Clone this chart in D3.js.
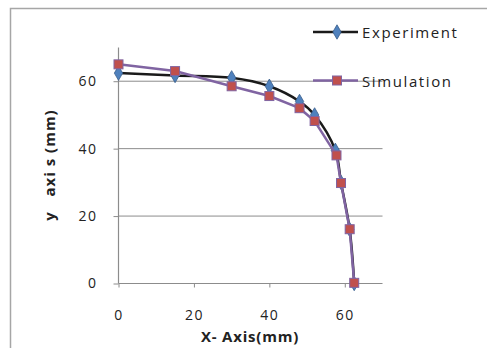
<!DOCTYPE html>
<html><head><meta charset="utf-8">
<script src="https://cdn.jsdelivr.net/npm/d3@7/dist/d3.min.js"></script>
<style>body{margin:0;background:#fff}svg{display:block}</style>
</head><body>
<script>
const expX = [0, 15, 30, 40, 48, 52, 57.5, 59, 61.3, 62.5];
const expY = [62.4, 61.7, 61, 58.5, 54, 50, 39.5, 30, 16, 0];
const simX = [0, 15, 30, 40, 48, 52, 57.8, 59, 61.3, 62.5];
const simY = [65, 63, 58.5, 55.6, 52, 48.2, 38, 29.8, 16.1, 0.2];
const xTicks = [0, 20, 40, 60];
const yTicks = [0, 20, 40, 60];
const seriesNames = ["Experiment", "Simulation"];

const W = 487, H = 348;
const svg = d3.select("body").append("svg").attr("width", W).attr("height", H);
const font = "'Open Sans', 'Liberation Sans', sans-serif";

// outer border
svg.append("path").attr("d", `M10.5,${H} V8.5 H${W}`).attr("fill", "none").attr("stroke", "#a6a6a6").attr("stroke-width", 1.5);

const x = d3.scaleLinear().domain([0, 70]).range([118.5, 382.5]);
const y = d3.scaleLinear().domain([0, 70]).range([283.5, 47.5]);

// gridlines
svg.append("g").selectAll("line").data(yTicks.filter(d => d > 0)).join("line")
  .attr("x1", x(0)).attr("x2", x(70)).attr("y1", d => y(d)).attr("y2", d => y(d))
  .attr("stroke", "#8c8c8c").attr("stroke-width", 1);

// axes
const xAxis = d3.axisBottom(x).tickValues(xTicks).tickSize(4).tickPadding(23).tickFormat(d3.format("d"));
const gx = svg.append("g").attr("transform", `translate(0,${y(0)})`).call(xAxis);
const yAxis = d3.axisLeft(y).tickValues(yTicks).tickSize(5).tickPadding(16).tickFormat(d3.format("d"));
const gy = svg.append("g").attr("transform", `translate(${x(0)},0)`).call(yAxis);
[gx, gy].forEach(g => {
  g.select(".domain").attr("stroke", "#8c8c8c").attr("stroke-width", 1.2);
  g.selectAll(".tick line").attr("stroke", "#8c8c8c");
  g.selectAll(".tick text").attr("font-family", font).attr("font-size", 14).attr("fill", "#222")
    .style("letter-spacing", "1.5px");
});
gx.select(".domain").attr("d", `M${x(0)},0H${x(70)}`);
gy.select(".domain").attr("d", `M0,${y(0)}V${y(70)}`);

// axis titles
svg.append("text").attr("x", 250).attr("y", 342).attr("text-anchor", "middle")
  .attr("font-family", font).attr("font-size", 15).attr("font-weight", "bold").attr("fill", "#222")
  .style("letter-spacing", "0.8px")
  .text("X- Axis(mm)");
svg.append("text").attr("transform", "translate(55,165) rotate(-90)").attr("text-anchor", "middle")
  .attr("font-family", font).attr("font-size", 15).attr("font-weight", "bold").attr("fill", "#222")
  .style("white-space", "pre").style("letter-spacing", "1px")
  .text("y   axi s (mm)");

const smooth = d3.line().curve(d3.curveCatmullRom.alpha(0.5)).x(d => x(d[0])).y(d => y(d[1]));
const straight = d3.line().x(d => x(d[0])).y(d => y(d[1]));
const exp = expX.map((v, i) => [v, expY[i]]);
const sim = simX.map((v, i) => [v, simY[i]]);

svg.append("path").attr("d", smooth(exp)).attr("fill", "none").attr("stroke", "#1a1a1a").attr("stroke-width", 2.5);
const diamond = d3.symbol().type(d3.symbolDiamond).size(60);
svg.append("g").selectAll("path").data(exp).join("path")
  .attr("d", diamond).attr("transform", d => `translate(${x(d[0])},${y(d[1])})`)
  .attr("fill", "#4f81bd").attr("stroke", "#385d8a").attr("stroke-width", 0.8);

svg.append("path").attr("d", straight(sim)).attr("fill", "none").attr("stroke", "#8064a2").attr("stroke-width", 2.5);
svg.append("g").selectAll("rect").data(sim).join("rect")
  .attr("x", d => x(d[0]) - 4.5).attr("y", d => y(d[1]) - 4.5).attr("width", 9).attr("height", 9)
  .attr("fill", "#c0504d").attr("stroke", "#8064a2").attr("stroke-width", 1);

// legend
const lg = svg.append("g");
const ly = [32, 80.5];
lg.append("line").attr("x1", 313).attr("x2", 358).attr("y1", ly[0]).attr("y2", ly[0]).attr("stroke", "#1a1a1a").attr("stroke-width", 2.5);
lg.append("path").attr("d", diamond).attr("transform", `translate(337,${ly[0]})`).attr("fill", "#4f81bd").attr("stroke", "#385d8a").attr("stroke-width", 0.8);
lg.append("line").attr("x1", 313).attr("x2", 358).attr("y1", ly[1]).attr("y2", ly[1]).attr("stroke", "#8064a2").attr("stroke-width", 2.5);
lg.append("rect").attr("x", 332.5).attr("y", ly[1] - 4.5).attr("width", 9).attr("height", 9).attr("fill", "#c0504d").attr("stroke", "#8064a2");
lg.selectAll("text").data(seriesNames).join("text")
  .attr("x", 362).attr("y", (d, i) => ly[i] + 6)
  .attr("font-family", font).attr("font-size", 15).attr("fill", "#222")
  .style("letter-spacing", "1.6px").text(d => d);
</script>
</body></html>
